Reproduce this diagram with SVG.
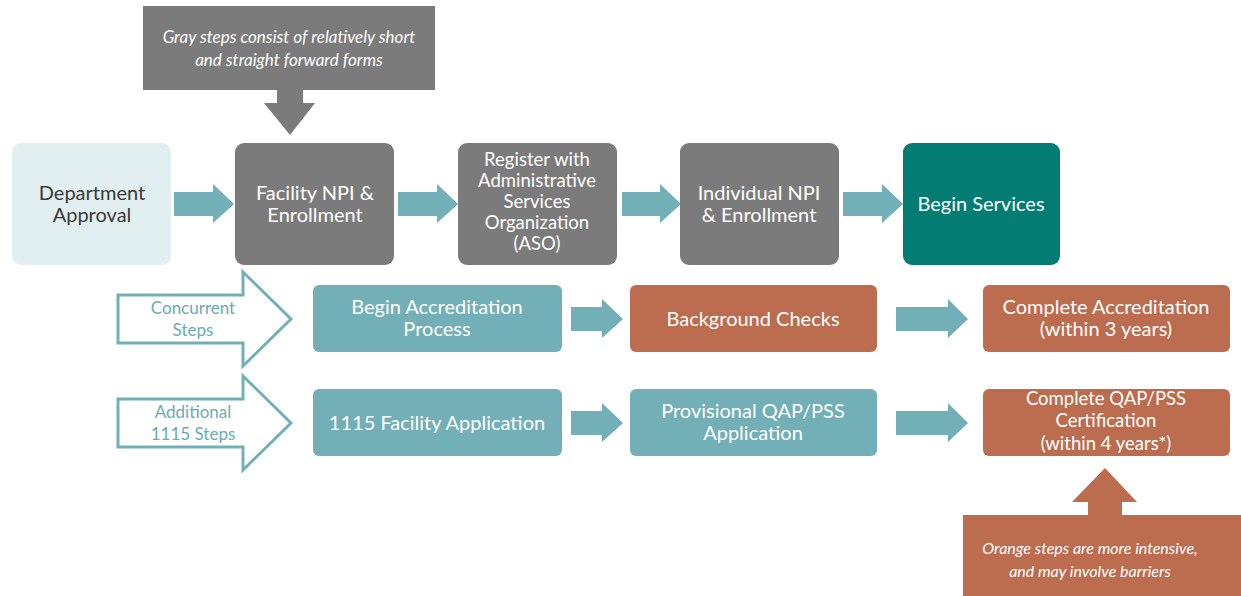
<svg xmlns="http://www.w3.org/2000/svg" width="1241" height="596" viewBox="0 0 1241 596">
<style>
text{font-family:Lato,"Open Sans","Liberation Sans",sans-serif;text-anchor:middle}
.lbl{font-size:20px;fill:#ffffff}
.sm{font-size:18.5px}
.gray{fill:#7b7b7b}
.teal{fill:#72afb6}
.dteal{fill:#037d74}
.orange{fill:#bc6c4f}
.light{fill:#e2eff0}
.note{font-size:17px;font-style:italic;fill:#ffffff}
.hollow{fill:#ffffff;stroke:#72afb6;stroke-width:3}
.htxt{font-size:17px;fill:#6aacb3}
.arr{fill:#72afb6}
</style>
<rect width="1241" height="596" fill="#ffffff"/>

<g id="note-gray">
<rect x="143" y="6" width="292" height="84" class="gray"/>
<polygon points="277,89 303,89 303,103 315,103 290,135 264,103 277,103" class="gray"/>
<text class="note" x="289" y="43">Gray steps consist of relatively short</text>
<text class="note" x="289" y="66">and straight forward forms</text>
</g>

<g id="connectors">
<polygon class="arr" points="174,192 213,192 213,184 234,204 213,223 213,216 174,216"/>
<polygon class="arr" points="398,192 437,192 437,184 458,204 437,223 437,216 398,216"/>
<polygon class="arr" points="622,192 660,192 660,184 681,204 660,223 660,216 622,216"/>
<polygon class="arr" points="843,192 882,192 882,184 903,204 882,223 882,216 843,216"/>
<polygon class="arr" points="571,307 602,307 602,299 623,319 602,338 602,331 571,331"/>
<polygon class="arr" points="896,307 948,307 948,299 968,319 948,338 948,331 896,331"/>
<polygon class="arr" points="571,411 602,411 602,403 623,423 602,442 602,435 571,435"/>
<polygon class="arr" points="896,411 948,411 948,403 968,423 948,442 948,435 896,435"/>
</g>

<g id="department-approval">
<rect x="12" y="143" width="159" height="122" rx="9" class="light"/>
<text class="lbl" x="92" y="200" style="fill:#3a3a3a">Department</text>
<text class="lbl" x="92" y="222" style="fill:#3a3a3a">Approval</text>
</g>

<g id="facility-npi">
<rect x="235" y="143" width="159" height="122" rx="9" class="gray"/>
<text class="lbl" x="315" y="200">Facility NPI &amp;</text>
<text class="lbl" x="315" y="222">Enrollment</text>
</g>

<g id="register-aso">
<rect x="458" y="143" width="159" height="122" rx="9" class="gray"/>
<text class="lbl sm" x="537" y="166">Register with</text>
<text class="lbl sm" x="537" y="187">Administrative</text>
<text class="lbl sm" x="537" y="208">Services</text>
<text class="lbl sm" x="537" y="229">Organization</text>
<text class="lbl sm" x="537" y="250">(ASO)</text>
</g>

<g id="individual-npi">
<rect x="680" y="143" width="159" height="122" rx="9" class="gray"/>
<text class="lbl" x="759" y="200">Individual NPI</text>
<text class="lbl" x="759" y="222">&amp; Enrollment</text>
</g>

<g id="begin-services">
<rect x="903" y="143" width="157" height="122" rx="9" class="dteal"/>
<text class="lbl" x="981" y="211">Begin Services</text>
</g>

<g id="concurrent-steps">
<polygon class="hollow" points="118,295 243,295 243,272 291,319 243,366 243,343 118,343"/>
<text class="htxt" x="193" y="314">Concurrent</text>
<text class="htxt" x="193" y="336">Steps</text>
</g>

<g id="additional-steps">
<polygon class="hollow" points="118,399 243,399 243,376 291,423 243,470 243,447 118,447"/>
<text class="htxt" x="193" y="418">Additional</text>
<text class="htxt" x="193" y="440">1115 Steps</text>
</g>

<g id="begin-accreditation">
<rect x="313" y="285" width="249" height="67" rx="6" class="teal"/>
<text class="lbl" x="437" y="314">Begin Accreditation</text>
<text class="lbl" x="437" y="336">Process</text>
</g>

<g id="background-checks">
<rect x="630" y="285" width="247" height="67" rx="6" class="orange"/>
<text class="lbl" x="753" y="326">Background Checks</text>
</g>

<g id="complete-accreditation">
<rect x="983" y="285" width="247" height="67" rx="6" class="orange"/>
<text class="lbl" x="1106" y="314">Complete Accreditation</text>
<text class="lbl" x="1106" y="336">(within 3 years)</text>
</g>

<g id="facility-application">
<rect x="313" y="389" width="249" height="67" rx="6" class="teal"/>
<text class="lbl" x="437" y="430">1115 Facility Application</text>
</g>

<g id="provisional-qap">
<rect x="630" y="389" width="247" height="67" rx="6" class="teal"/>
<text class="lbl" x="753" y="418">Provisional QAP/PSS</text>
<text class="lbl" x="753" y="440">Application</text>
</g>

<g id="complete-qap">
<rect x="983" y="389" width="247" height="67" rx="6" class="orange"/>
<text class="lbl sm" x="1106" y="405">Complete QAP/PSS</text>
<text class="lbl sm" x="1106" y="427">Certification</text>
<text class="lbl sm" x="1106" y="450">(within 4 years*)</text>
</g>

<g id="note-orange">
<polygon points="1105,468 1137,502 1122,502 1122,516 1088,516 1088,502 1072,502" class="orange"/>
<rect x="963" y="515" width="278" height="81" class="orange"/>
<text class="note" x="1090" y="554" style="font-size:16px">Orange steps are more intensive,</text>
<text class="note" x="1090" y="577" style="font-size:16px">and may involve barriers</text>
</g>
</svg>
